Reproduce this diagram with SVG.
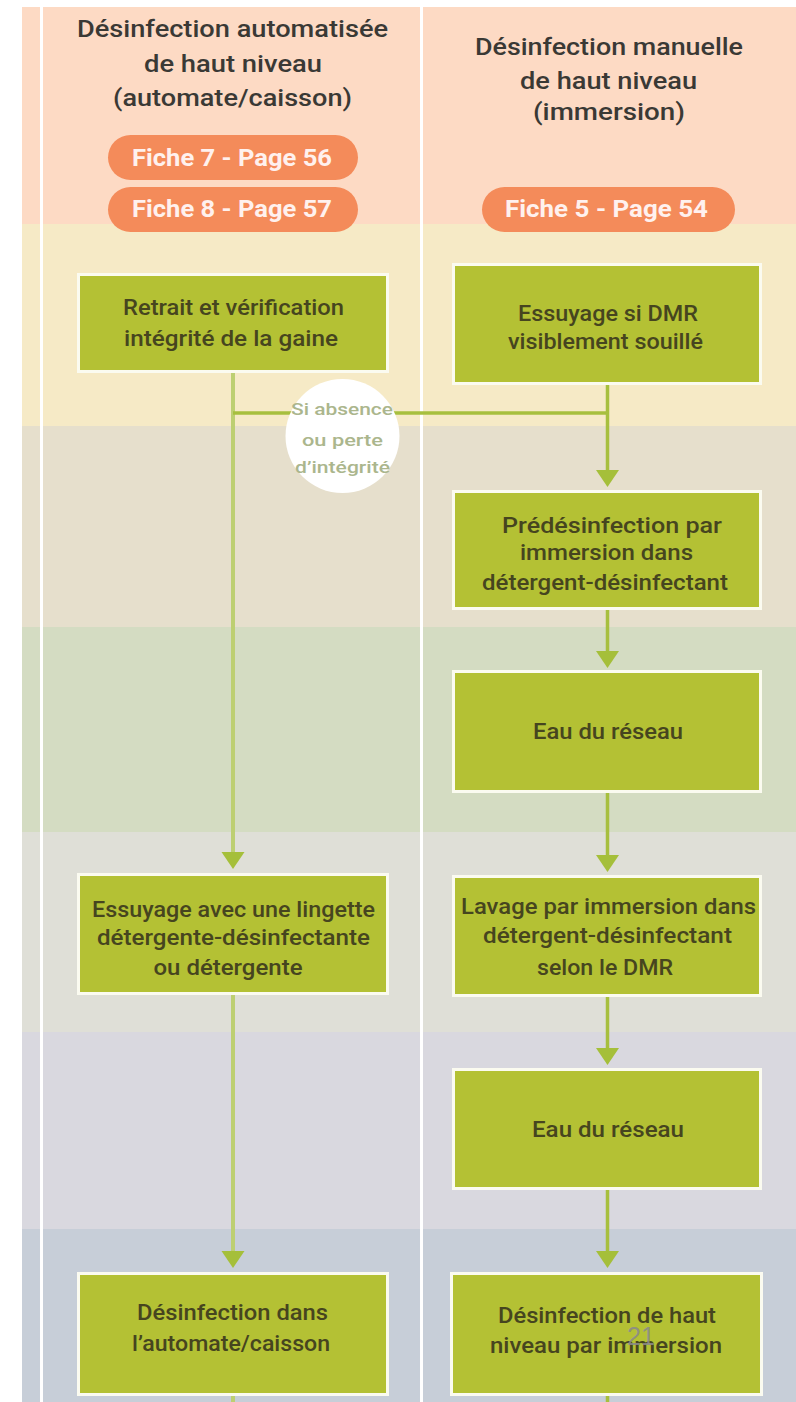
<svg xmlns="http://www.w3.org/2000/svg" xmlns:xlink="http://www.w3.org/1999/xlink" width="796" height="1402" viewBox="0 0 796 1402">
  <style>
    .hdr { font-family: Roboto, "Liberation Sans", sans-serif; font-weight: 500; font-size: 24px; fill: #3a3935; text-anchor: middle; }
    .pill { fill: #f48b5a; }
    .pilltxt { font-family: Roboto, "Liberation Sans", sans-serif; font-weight: 700; font-size: 24px; fill: #fff1ee; text-anchor: middle; }
    .box { fill: #b4c134; stroke: #fbfbf0; stroke-width: 3; }
    .btxt { font-family: Roboto, "Liberation Sans", sans-serif; font-weight: 500; font-size: 22px; fill: #46451f; text-anchor: middle; }
    .link { stroke: #a7bf3e; stroke-width: 3.5; fill: none; }
    .link-soft { stroke: #bdcf72; stroke-width: 4; fill: none; }
    .head { fill: #a5bf3a; }
    .ctxt { font-family: Roboto, "Liberation Sans", sans-serif; font-weight: 500; font-size: 17px; fill: #abb68d; text-anchor: middle; }
    .pageno { font-family: "Liberation Sans", Arial, sans-serif; font-size: 25px; fill: #8a8a8a; fill-opacity: 0.9; }
  </style>
  <defs>
    <polygon id="arrowhead" points="-11.5,-17 11.5,-17 0,0"/>
  </defs>

  <!-- page background -->
  <rect x="0" y="0" width="796" height="1402" fill="#ffffff"/>

  <!-- horizontal bands -->
  <g id="bands">
    <rect x="22" y="7" width="774" height="217" fill="#fddac4"/>
    <rect x="22" y="224" width="774" height="202" fill="#f6eac6"/>
    <rect x="22" y="426" width="774" height="201" fill="#e6dfcc"/>
    <rect x="22" y="627" width="774" height="205" fill="#d4dcc2"/>
    <rect x="22" y="832" width="774" height="200" fill="#dfdfd7"/>
    <rect x="22" y="1032" width="774" height="197" fill="#d9d8df"/>
    <rect x="22" y="1229" width="774" height="173" fill="#c7ced8"/>
    <!-- column separators -->
    <rect x="40" y="7" width="3" height="1395" fill="#ffffff"/>
    <rect x="420" y="7" width="3" height="1395" fill="#ffffff"/>
  </g>

  <!-- column headings -->
  <g id="header-auto">
    <text class="hdr" x="232.5" y="37" textLength="311" lengthAdjust="spacingAndGlyphs">Désinfection automatisée</text>
    <text class="hdr" x="233" y="72" textLength="178" lengthAdjust="spacingAndGlyphs">de haut niveau</text>
    <text class="hdr" x="232.5" y="106" textLength="239" lengthAdjust="spacingAndGlyphs">(automate/caisson)</text>
  </g>
  <g id="header-manual">
    <text class="hdr" x="609" y="55" textLength="268" lengthAdjust="spacingAndGlyphs">Désinfection manuelle</text>
    <text class="hdr" x="608.5" y="89" textLength="177" lengthAdjust="spacingAndGlyphs">de haut niveau</text>
    <text class="hdr" x="609" y="120" textLength="152" lengthAdjust="spacingAndGlyphs">(immersion)</text>
  </g>

  <!-- reference tags -->
  <g id="tag-fiche7">
    <rect class="pill" x="108" y="135" width="250" height="45" rx="22.5"/>
    <text class="pilltxt" x="232" y="166" textLength="200" lengthAdjust="spacingAndGlyphs">Fiche 7 - Page 56</text>
  </g>
  <g id="tag-fiche8">
    <rect class="pill" x="108" y="187" width="250" height="45" rx="22.5"/>
    <text class="pilltxt" x="232" y="217" textLength="200" lengthAdjust="spacingAndGlyphs">Fiche 8 - Page 57</text>
  </g>
  <g id="tag-fiche5">
    <rect class="pill" x="482" y="187" width="253" height="45" rx="22.5"/>
    <text class="pilltxt" x="606.5" y="217" textLength="203" lengthAdjust="spacingAndGlyphs">Fiche 5 - Page 54</text>
  </g>

  <!-- connectors -->
  <g id="connectors">
    <!-- automated path -->
    <line class="link-soft" x1="233" y1="373" x2="233" y2="855"/>
    <line class="link-soft" x1="233" y1="995" x2="233" y2="1254"/>
    <line class="link-soft" x1="233" y1="1396" x2="233" y2="1402"/>
    <use xlink:href="#arrowhead" class="head" x="233" y="869"/>
    <use xlink:href="#arrowhead" class="head" x="233" y="1268"/>
    <!-- branch from the sheath check to the manual path -->
    <line class="link" x1="233" y1="413" x2="607.5" y2="413"/>
    <!-- manual path -->
    <line class="link" x1="607.5" y1="385" x2="607.5" y2="473"/>
    <line class="link" x1="607.5" y1="610" x2="607.5" y2="654"/>
    <line class="link" x1="607.5" y1="793" x2="607.5" y2="858"/>
    <line class="link" x1="607.5" y1="997" x2="607.5" y2="1051"/>
    <line class="link" x1="607.5" y1="1190" x2="607.5" y2="1254"/>
    <line class="link" x1="607.5" y1="1396" x2="607.5" y2="1402"/>
    <use xlink:href="#arrowhead" class="head" x="607.5" y="487"/>
    <use xlink:href="#arrowhead" class="head" x="607.5" y="668"/>
    <use xlink:href="#arrowhead" class="head" x="607.5" y="872"/>
    <use xlink:href="#arrowhead" class="head" x="607.5" y="1065"/>
    <use xlink:href="#arrowhead" class="head" x="607.5" y="1268"/>
  </g>

  <!-- condition badge on the branch -->
  <g id="condition">
    <circle cx="342.5" cy="436" r="57" fill="#ffffff"/>
    <text class="ctxt" x="342" y="415" textLength="102" lengthAdjust="spacingAndGlyphs">Si absence</text>
    <text class="ctxt" x="342.5" y="446" textLength="81" lengthAdjust="spacingAndGlyphs">ou perte</text>
    <text class="ctxt" x="342.5" y="473" textLength="95" lengthAdjust="spacingAndGlyphs">d’intégrité</text>
  </g>

  <!-- automated column steps -->
  <g id="step-retrait">
    <rect class="box" x="78.5" y="274.5" width="309" height="97"/>
    <text class="btxt" x="233.5" y="315" textLength="221" lengthAdjust="spacingAndGlyphs">Retrait et vérification</text>
    <text class="btxt" x="231" y="346" textLength="214" lengthAdjust="spacingAndGlyphs">intégrité de la gaine</text>
  </g>
  <g id="step-lingette">
    <rect class="box" x="78.5" y="874.5" width="309" height="119"/>
    <text class="btxt" x="233.5" y="917" textLength="283" lengthAdjust="spacingAndGlyphs">Essuyage avec une lingette</text>
    <text class="btxt" x="233.5" y="945" textLength="273" lengthAdjust="spacingAndGlyphs">détergente-désinfectante</text>
    <text class="btxt" x="228" y="975" textLength="149" lengthAdjust="spacingAndGlyphs">ou détergente</text>
  </g>
  <g id="step-automate">
    <rect class="box" x="78.5" y="1273.5" width="309" height="121"/>
    <text class="btxt" x="232.5" y="1320" textLength="191" lengthAdjust="spacingAndGlyphs">Désinfection dans</text>
    <text class="btxt" x="231" y="1351" textLength="198" lengthAdjust="spacingAndGlyphs">l’automate/caisson</text>
  </g>

  <!-- manual column steps -->
  <g id="step-essuyage">
    <rect class="box" x="453.5" y="264.5" width="307" height="119"/>
    <text class="btxt" x="608" y="321" textLength="180" lengthAdjust="spacingAndGlyphs">Essuyage si DMR</text>
    <text class="btxt" x="605.5" y="349" textLength="195" lengthAdjust="spacingAndGlyphs">visiblement souillé</text>
  </g>
  <g id="step-predesinfection">
    <rect class="box" x="453.5" y="491.5" width="307" height="117"/>
    <text class="btxt" x="612" y="533" textLength="220" lengthAdjust="spacingAndGlyphs">Prédésinfection par</text>
    <text class="btxt" x="606.5" y="560" textLength="173" lengthAdjust="spacingAndGlyphs">immersion dans</text>
    <text class="btxt" x="605" y="590" textLength="246" lengthAdjust="spacingAndGlyphs">détergent-désinfectant</text>
  </g>
  <g id="step-rincage1">
    <rect class="box" x="453.5" y="671.5" width="307" height="120"/>
    <text class="btxt" x="608" y="739" textLength="150" lengthAdjust="spacingAndGlyphs">Eau du réseau</text>
  </g>
  <g id="step-lavage">
    <rect class="box" x="453.5" y="876.5" width="307" height="119"/>
    <text class="btxt" x="608.5" y="914" textLength="295" lengthAdjust="spacingAndGlyphs">Lavage par immersion dans</text>
    <text class="btxt" x="607.5" y="943" textLength="249" lengthAdjust="spacingAndGlyphs">détergent-désinfectant</text>
    <text class="btxt" x="605" y="975" textLength="136" lengthAdjust="spacingAndGlyphs">selon le DMR</text>
  </g>
  <g id="step-rincage2">
    <rect class="box" x="453.5" y="1069.5" width="307" height="119"/>
    <text class="btxt" x="608" y="1137" textLength="152" lengthAdjust="spacingAndGlyphs">Eau du réseau</text>
  </g>
  <g id="step-immersion">
    <rect class="box" x="451.5" y="1273.5" width="310" height="121"/>
    <text class="btxt" x="607" y="1323" textLength="218" lengthAdjust="spacingAndGlyphs">Désinfection de haut</text>
    <text class="btxt" x="606" y="1353" textLength="232" lengthAdjust="spacingAndGlyphs">niveau par immersion</text>
  </g>

  <!-- page number -->
  <text class="pageno" x="627" y="1345" textLength="28" lengthAdjust="spacingAndGlyphs">21</text>
</svg>
